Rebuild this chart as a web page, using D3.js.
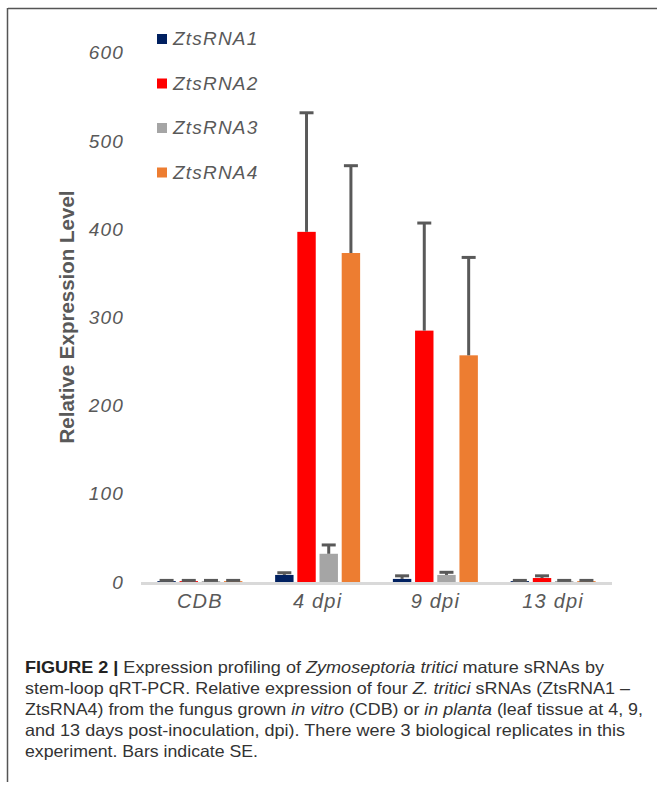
<!DOCTYPE html>
<html>
<head>
<meta charset="utf-8">
<script src="https://cdn.jsdelivr.net/npm/d3@7"></script>
<style>
  html, body { margin: 0; padding: 0; background: #fff; }
  svg { display: block; }
</style>
</head>
<body>
<svg id="fig" width="657" height="791"></svg>
<script>
// Sampling days and the four sRNAs measured at each
const categories = ["CDB", "4 dpi", "9 dpi", "13 dpi"];
const seriesNames = ["ZtsRNA1", "ZtsRNA2", "ZtsRNA3", "ZtsRNA4"];
const seriesColors = ["#002060", "#FF0000", "#A5A5A5", "#ED7D31"];

// Mean relative expression per category
const ztsRNA1 = [1, 8, 3.5, 1];
const ztsRNA2 = [1, 397, 285, 4.5];
const ztsRNA3 = [1, 32, 8, 1];
const ztsRNA4 = [1, 373, 257, 1];

// Standard error per category
const ztsRNA1Err = [0.8, 2.5, 3.5, 0.8];
const ztsRNA2Err = [0.8, 135, 122, 2.5];
const ztsRNA3Err = [0.8, 10, 3, 0.8];
const ztsRNA4Err = [0.8, 99, 111, 0.8];

const yTicks = [0, 100, 200, 300, 400, 500, 600];

const values = [ztsRNA1, ztsRNA2, ztsRNA3, ztsRNA4];
const errors = [ztsRNA1Err, ztsRNA2Err, ztsRNA3Err, ztsRNA4Err];

const rows = [];
categories.forEach((c, ci) => {
  seriesNames.forEach((s, si) => {
    rows.push({ cat: c, series: s, color: seriesColors[si], value: values[si][ci], err: errors[si][ci] });
  });
});

const svg = d3.select("#fig");
const grey = "#595959";

// Figure frame
svg.append("line").attr("x1", 8).attr("x2", 657).attr("y1", 8.5).attr("y2", 8.5)
  .attr("stroke", "#555").attr("stroke-width", 1.5);
svg.append("line").attr("x1", 7.5).attr("x2", 7.5).attr("y1", 8).attr("y2", 782)
  .attr("stroke", "#555").attr("stroke-width", 1.5);

// Scales
const x0 = d3.scaleBand().domain(categories).range([141, 612]).paddingInner(0).paddingOuter(0);
const innerW = 85;
const x1 = d3.scaleBand().domain(seriesNames)
  .range([(x0.bandwidth() - innerW) / 2, (x0.bandwidth() + innerW) / 2]).paddingInner(0.17).paddingOuter(0);
const y = d3.scaleLinear().domain([0, 600]).range([582, 52.8]);

// Y tick labels (no axis line)
const yAxis = d3.axisLeft(y).tickValues(yTicks).tickSize(0).tickPadding(0).tickFormat(d3.format("d"));
const yg = svg.append("g").attr("transform", "translate(124,0)").call(yAxis);
yg.select(".domain").remove();
yg.selectAll("text")
  .attr("fill", grey)
  .attr("font-family", "Liberation Sans, Arial, sans-serif")
  .attr("font-style", "italic")
  .attr("font-size", 19)
  .attr("letter-spacing", 1.2);

// Y axis title
svg.append("text")
  .attr("transform", "translate(74,317) rotate(-90)")
  .attr("text-anchor", "middle")
  .attr("fill", grey)
  .attr("font-family", "Liberation Sans, Arial, sans-serif")
  .attr("font-weight", "bold")
  .attr("font-size", 20.5)
  .text("Relative Expression Level");

// Bars
const groups = svg.append("g").selectAll("g")
  .data(categories).join("g")
  .attr("transform", d => `translate(${x0(d)},0)`);

groups.selectAll("rect")
  .data(c => rows.filter(r => r.cat === c))
  .join("rect")
  .attr("x", d => x1(d.series))
  .attr("width", x1.bandwidth())
  .attr("y", d => y(d.value))
  .attr("height", d => y(0) - y(d.value))
  .attr("fill", d => d.color);

// Upper error bars
const eb = groups.selectAll("g.err")
  .data(c => rows.filter(r => r.cat === c))
  .join("g").attr("class", "err");
eb.append("line")
  .attr("x1", d => x1(d.series) + x1.bandwidth() / 2)
  .attr("x2", d => x1(d.series) + x1.bandwidth() / 2)
  .attr("y1", d => y(d.value))
  .attr("y2", d => y(d.value + d.err))
  .attr("stroke", grey).attr("stroke-width", 3);
eb.append("line")
  .attr("x1", d => x1(d.series) + x1.bandwidth() / 2 - 7)
  .attr("x2", d => x1(d.series) + x1.bandwidth() / 2 + 7)
  .attr("y1", d => y(d.value + d.err))
  .attr("y2", d => y(d.value + d.err))
  .attr("stroke", grey).attr("stroke-width", 3);

// Baseline
svg.append("line").attr("x1", 141).attr("x2", 612).attr("y1", 583.5).attr("y2", 583.5)
  .attr("stroke", "#D9D9D9").attr("stroke-width", 3);

// Category labels
const xAxis = d3.axisBottom(x0).tickSize(0).tickPadding(0);
const xg = svg.append("g").attr("transform", "translate(0,593)").call(xAxis);
xg.select(".domain").remove();
xg.selectAll("text")
  .attr("dy", "0.75em")
  .attr("fill", grey)
  .attr("font-family", "Liberation Sans, Arial, sans-serif")
  .attr("font-style", "italic")
  .attr("font-size", 20)
  .attr("letter-spacing", 1.2);

// Legend
const legend = svg.append("g").selectAll("g")
  .data(seriesNames).join("g")
  .attr("transform", (d, i) => `translate(157,${38 + i * 44.5})`);
legend.append("rect").attr("x", 0).attr("y", -4).attr("width", 10).attr("height", 10)
  .attr("fill", (d, i) => seriesColors[i]);
legend.append("text").attr("x", 16).attr("y", 7)
  .attr("fill", grey)
  .attr("font-family", "Liberation Sans, Arial, sans-serif")
  .attr("font-style", "italic")
  .attr("font-size", 19)
  .attr("letter-spacing", 1.2)
  .text(d => d);

// Caption
const captionLines = [
  [["FIGURE 2 | ", "b"], ["Expression profiling of ", ""], ["Zymoseptoria tritici", "i"], [" mature sRNAs by", ""]],
  [["stem-loop qRT-PCR. Relative expression of four ", ""], ["Z. tritici", "i"], [" sRNAs (ZtsRNA1 \u2013", ""]],
  [["ZtsRNA4) from the fungus grown ", ""], ["in vitro", "i"], [" (CDB) or ", ""], ["in planta", "i"], [" (leaf tissue at 4, 9,", ""]],
  [["and 13 days post-inoculation, dpi). There were 3 biological replicates in this", ""]],
  [["experiment. Bars indicate SE.", ""]]
];
const captionWidths = [579, 605, 618, 600, 233];
const cap = svg.append("g");
captionLines.forEach((line, li) => {
  const t = cap.append("text")
    .attr("x", 25).attr("y", 673 + li * 21)
    .attr("fill", "#333")
    .attr("font-family", "Liberation Sans, Arial, sans-serif")
    .attr("font-size", 16.5);
  line.forEach(([s, st]) => {
    const ts = t.append("tspan").text(s);
    if (st === "b") ts.attr("font-weight", "bold").attr("fill", "#222");
    if (st === "i") ts.attr("font-style", "italic");
  });
  t.attr("textLength", captionWidths[li]).attr("lengthAdjust", "spacingAndGlyphs");
});
</script>
</body>
</html>
